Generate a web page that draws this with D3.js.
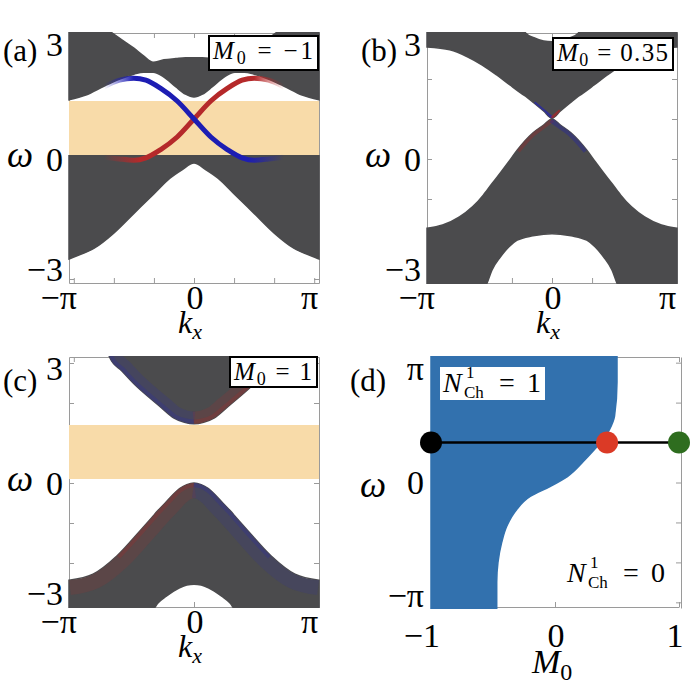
<!DOCTYPE html>
<meta charset="utf-8">
<style>
body { margin: 0; background: #fff; }
text { font-family: "Liberation Serif", "Times New Roman", "DejaVu Serif", serif; fill: #000; }
.it { font-style: italic; }
.axis .domain, .axis .tick line { stroke: #9a9a9a; stroke-width: 1px; }
.band { fill: #4b4b4d; stroke: #4b4b4d; stroke-width: 1.5px; }
.gap { fill: #f8dba9; }
</style>
<svg width="700" height="700"></svg>
<script src="https://d3js.org/d3.v7.min.js"></script>
<script>

var PI = Math.PI;

// ticks (k in units of pi)
var kTicks = [-1, -2/3, -1/3, 0, 1/3, 2/3, 1];
var kLabelVals = [-1, 0, 1];
var kLabelText = ["−π", "0", "π"];
var wTicks = [-3, -2, -1, 0, 1, 2, 3];
var wLabelVals = [-3, 0, 3];
var wLabelText = ["−3", "0", "3"];
var mTicks = [-1, 0, 1];
var mLabelText = ["−1", "0", "1"];
var dLabelVals = [-PI, 0, PI];
var dLabelText = ["−π", "0", "π"];

// gap band (orange) in omega
var gapLo = 0.1, gapHi = 1.45;

// (a) M0 = -1
var aUpK  = [-1.04, -0.9, -0.75, -0.68, -0.6, -0.5, -0.42, -0.34, -0.25, -0.15, -0.07, 0, 0.07, 0.15, 0.25, 0.34, 0.42, 0.5, 0.6, 0.68, 0.75, 0.9, 1.04];
var aUpLo = [1.48, 1.6, 1.82, 1.92, 2.02, 2.12, 2.17, 2.17, 2.05, 1.8, 1.62, 1.55, 1.62, 1.8, 2.05, 2.17, 2.17, 2.12, 2.02, 1.92, 1.82, 1.6, 1.48];
var aUpHi = [3.3, 3.3, 3.3, 3.15, 2.98, 2.77, 2.58, 2.42, 2.48, 2.51, 2.53, 2.53, 2.53, 2.51, 2.48, 2.42, 2.58, 2.77, 2.98, 3.15, 3.3, 3.3, 3.3];
var aLoK  = [-1.04, -1, -0.83, -0.67, -0.5, -0.33, -0.2, -0.1, 0, 0.1, 0.2, 0.33, 0.5, 0.67, 0.83, 1, 1.04];
var aLoLo = [-2.5, -2.45, -2.23, -1.86, -1.36, -0.86, -0.48, -0.27, -0.1, -0.27, -0.48, -0.86, -1.36, -1.86, -2.23, -2.45, -2.5];
var aLoHi = [0.08, 0.08, 0.08, 0.08, 0.08, 0.08, 0.08, 0.08, 0.08, 0.08, 0.08, 0.08, 0.08, 0.08, 0.08, 0.08, 0.08];
var aBlueK = [-0.75, -0.62, -0.5, -0.4, -0.28, -0.14, 0, 0.14, 0.28, 0.4, 0.5, 0.62, 0.75];
var aBlueW = [1.8, 1.97, 2.02, 1.97, 1.77, 1.45, 1.0, 0.55, 0.23, 0.03, -0.03, 0.0, 0.05];
var aRedK  = [-0.75, -0.62, -0.5, -0.4, -0.28, -0.14, 0, 0.14, 0.28, 0.4, 0.5, 0.62, 0.75];
var aRedW  = [0.05, 0.0, -0.03, 0.03, 0.23, 0.55, 1.0, 1.45, 1.77, 1.97, 2.02, 1.97, 1.8];

// (b) M0 = 0.35
var bUpK  = [-1.04, -0.85, -0.7, -0.58, -0.46, -0.35, -0.25, -0.22, -0.15, -0.07, 0, 0.07, 0.15, 0.22, 0.25, 0.35, 0.46, 0.58, 0.7, 0.85, 1.04];
var bUpLo = [2.8, 2.73, 2.55, 2.35, 2.1, 1.85, 1.63, 1.57, 1.4, 1.2, 1.02, 1.2, 1.4, 1.57, 1.63, 1.85, 2.1, 2.35, 2.55, 2.73, 2.8];
var bUpHi = [3.3, 3.3, 3.3, 3.3, 3.3, 3.3, 3.3, 3.15, 3.03, 2.95, 2.93, 2.95, 3.03, 3.15, 3.3, 3.3, 3.3, 3.3, 3.3, 3.3, 3.3];
var bLoK  = [-1.04, -0.91, -0.77, -0.57, -0.54, -0.5, -0.43, -0.36, -0.29, -0.16, -0.07, 0, 0.07, 0.16, 0.29, 0.36, 0.43, 0.5, 0.54, 0.57, 0.77, 0.91, 1.04];
var bLoHi = [-1.73, -1.65, -1.45, -0.9, -0.78, -0.62, -0.35, -0.07, 0.22, 0.65, 0.85, 1.0, 0.85, 0.65, 0.22, -0.07, -0.35, -0.62, -0.78, -0.9, -1.45, -1.65, -1.73];
var bLoLo = [-3.3, -3.3, -3.3, -3.3, -3.1, -2.78, -2.45, -2.2, -2.03, -1.92, -1.88, -1.87, -1.88, -1.92, -2.03, -2.2, -2.45, -2.78, -3.1, -3.3, -3.3, -3.3, -3.3];

// (c) M0 = 1
var cUpK  = [-0.72, -0.7, -0.6, -0.5, -0.37, -0.27, -0.17, -0.08, 0, 0.08, 0.17, 0.27, 0.37, 0.5, 0.6, 0.7, 0.72];
var cUpLo = [3.3, 3.13, 2.8, 2.48, 2.13, 1.88, 1.63, 1.52, 1.48, 1.52, 1.63, 1.88, 2.13, 2.48, 2.8, 3.13, 3.3];
var cUpHi = [3.3, 3.3, 3.3, 3.3, 3.3, 3.3, 3.3, 3.3, 3.3, 3.3, 3.3, 3.3, 3.3, 3.3, 3.3, 3.3, 3.3];
var cLoK  = [-1.04, -0.84, -0.64, -0.45, -0.35, -0.3, -0.23, -0.12, -0.06, 0, 0.06, 0.12, 0.23, 0.3, 0.35, 0.45, 0.64, 0.84, 1.04];
var cLoHi = [-2.43, -2.28, -1.82, -1.2, -0.86, -0.69, -0.47, -0.14, -0.04, 0.0, -0.04, -0.14, -0.47, -0.69, -0.86, -1.2, -1.82, -2.28, -2.43];
var cLoLo = [-3.3, -3.3, -3.3, -3.3, -3.2, -3.0, -2.83, -2.62, -2.55, -2.53, -2.55, -2.62, -2.83, -3.0, -3.2, -3.3, -3.3, -3.3, -3.3];

// (d) phase diagram: boundary M0 of the N=1 region versus omega
var dBoundW = [-3.15, -2.5, -2.0, -1.5, -1.1, -0.68, -0.35, -0.1, 0.15, 0.53, 0.83, 1.08, 1.33, 1.66, 2.51, 3.15];
var dBoundM = [-0.47, -0.47, -0.46, -0.43, -0.39, -0.31, -0.2, -0.04, 0.1, 0.23, 0.32, 0.39, 0.44, 0.48, 0.5, 0.5];
var dLineW = 1;
var dDotM = [-1, 0.42, 1];
var dDotColor = ["#000000", "#db3a26", "#2e6d1f"];

var svg = d3.select("svg");
var defs = svg.append("defs");

function zip3(k, lo, hi) { return k.map(function(v, i) { return [v, lo[i], hi[i]]; }); }
function zip2(k, w) { return k.map(function(v, i) { return [v, w[i]]; }); }

function addAxes(g, x, y, left, top, xt, yt) {
  var w = 250, h = 250;
  g.append("g").attr("class", "axis").attr("transform", "translate(0," + (top + h) + ")")
    .call(d3.axisBottom(x).tickValues(xt).tickSize(-5).tickSizeOuter(0).tickFormat(""));
  g.append("g").attr("class", "axis").attr("transform", "translate(0," + top + ")")
    .call(d3.axisTop(x).tickValues(xt).tickSize(-5).tickSizeOuter(0).tickFormat(""));
  g.append("g").attr("class", "axis").attr("transform", "translate(" + left + ",0)")
    .call(d3.axisLeft(y).tickValues(yt).tickSize(-5).tickSizeOuter(0).tickFormat(""));
  g.append("g").attr("class", "axis").attr("transform", "translate(" + (left + w) + ",0)")
    .call(d3.axisRight(y).tickValues(yt).tickSize(-5).tickSizeOuter(0).tickFormat(""));
}

function makePanel(id, left, top, label) {
  var x = d3.scaleLinear().domain([-1.04, 1.04]).range([left, left + 250]);
  var y = d3.scaleLinear().domain([-3.1, 3.15]).range([top + 250, top]);
  defs.append("clipPath").attr("id", "clip-" + id)
    .append("rect").attr("x", left - 1).attr("y", top - 1).attr("width", 252).attr("height", 252);
  var g = svg.append("g");
  addAxes(g, x, y, left, top, kTicks, wTicks);
  var plot = g.append("g").attr("clip-path", "url(#clip-" + id + ")");

  // tick labels
  g.selectAll(".wl").data(wLabelVals).enter().append("text")
    .attr("x", left - 6)
    .attr("y", function(d) { return Math.max(top + 11, Math.min(top + 236, y(d))) + 11.5; })
    .attr("text-anchor", "end").style("font-size", "34px")
    .text(function(d, i) { return wLabelText[i]; });
  g.selectAll(".kl").data(kLabelVals).enter().append("text")
    .attr("x", function(d) { return d === 0 ? x(d) + 1 : x(d) + (d < 0 ? 3 : 4); })
    .attr("y", top + 250 + 26)
    .attr("text-anchor", function(d) { return d === 0 ? "middle" : "end"; })
    .style("font-size", "34px")
    .text(function(d, i) { return kLabelText[i]; });

  // axis titles
  var kt = g.append("text").attr("x", x(0) - 16).attr("y", top + 300).style("font-size", "32px");
  kt.append("tspan").attr("class", "it").text("k");
  kt.append("tspan").attr("class", "it").attr("dy", 6).style("font-size", "22px").text("x");
  g.append("text").attr("class", "it").attr("x", left - 49).attr("y", y(0) + 8)
    .attr("text-anchor", "middle").style("font-size", "37px").text("ω");
  g.append("text").attr("x", left - 66).attr("y", top + (top > 100 ? 34 : 28))
    .style("font-size", "31px").text(label);

  return { x: x, y: y, g: g, plot: plot, left: left, top: top };
}

function bandArea(P) {
  return d3.area().curve(d3.curveMonotoneX)
    .x(function(d) { return P.x(d[0]); })
    .y0(function(d) { return P.y(d[1]); })
    .y1(function(d) { return P.y(d[2]); });
}

function drawBand(P, id, data) {
  var area = bandArea(P);
  defs.append("clipPath").attr("id", id).append("path").attr("d", area(data));
  P.plot.append("path").attr("class", "band").attr("d", area(data));
}

function tint(P, clipId, pts, color, width, opacity) {
  var line = d3.line().curve(d3.curveMonotoneX)
    .x(function(d) { return P.x(d[0]); })
    .y(function(d) { return P.y(d[1]); });
  P.plot.append("g").attr("clip-path", "url(#" + clipId + ")")
    .append("path").attr("d", line(pts))
    .attr("fill", "none").attr("stroke", color)
    .attr("stroke-width", width).attr("stroke-opacity", opacity);
}

function gap(P) {
  P.plot.append("rect").attr("class", "gap")
    .attr("x", P.left).attr("width", 250)
    .attr("y", P.y(gapHi)).attr("height", P.y(gapLo) - P.y(gapHi));
}

function mBox(P, x0, y0, x1, y1, val) {
  P.g.append("rect").attr("x", x0).attr("y", y0).attr("width", x1 - x0).attr("height", y1 - y0)
    .attr("fill", "#fff").attr("stroke", "#000").attr("stroke-width", 2);
  var t = P.g.append("text").attr("x", x0 + 4).attr("y", y0 + 23).style("font-size", "25px")
    .attr("textLength", x1 - x0 - 9).attr("lengthAdjust", "spacing");
  t.append("tspan").attr("class", "it").text("M");
  t.append("tspan").attr("dy", 5).style("font-size", "18px").text("0");
  t.append("tspan").attr("dy", -5).text(" = " + val);
}

function sub(list, lo, hi) {
  return list.filter(function(d) { return d[0] >= lo && d[0] <= hi; });
}

// ---- panel (a)
var A = makePanel("a", 69, 33, "(a)");
gap(A);
drawBand(A, "aup", zip3(aUpK, aUpLo, aUpHi));
drawBand(A, "alo", zip3(aLoK, aLoLo, aLoHi));

function edgeGrad(id, P, color, k0, k1, fadeIn, fadeOut) {
  var gr = defs.append("linearGradient").attr("id", id).attr("gradientUnits", "userSpaceOnUse")
    .attr("x1", P.x(k0)).attr("x2", P.x(k1)).attr("y1", 0).attr("y2", 0);
  var span = k1 - k0;
  gr.append("stop").attr("offset", 0).attr("stop-color", color).attr("stop-opacity", 0);
  gr.append("stop").attr("offset", (fadeIn - k0) / span).attr("stop-color", color).attr("stop-opacity", 1);
  gr.append("stop").attr("offset", (fadeOut - k0) / span).attr("stop-color", color).attr("stop-opacity", 1);
  gr.append("stop").attr("offset", 1).attr("stop-color", color).attr("stop-opacity", 0);
}
edgeGrad("gBlue", A, "#1d1db3", -0.75, 0.75, -0.5, 0.45);
edgeGrad("gRed", A, "#b5292a", -0.75, 0.75, -0.45, 0.5);
var edgeLine = d3.line().curve(d3.curveMonotoneX)
  .x(function(d) { return A.x(d[0]); })
  .y(function(d) { return A.y(d[1]); });
A.plot.append("path").attr("d", edgeLine(zip2(aRedK, aRedW)))
  .attr("fill", "none").attr("stroke", "url(#gRed)").attr("stroke-width", 5);
A.plot.append("path").attr("d", edgeLine(zip2(aBlueK, aBlueW)))
  .attr("fill", "none").attr("stroke", "url(#gBlue)").attr("stroke-width", 5);
mBox(A, 209, 36, 318, 70, "−1");

// ---- panel (b)
var B = makePanel("b", 427, 33, "(b)");
drawBand(B, "bup", zip3(bUpK, bUpLo, bUpHi));
drawBand(B, "blo", zip3(bLoK, bLoLo, bLoHi));
var bUpEdge = zip2(bUpK, bUpLo), bLoEdge = zip2(bLoK, bLoHi);
tint(B, "bup", sub(bUpEdge, -0.16, 0), "#2020c0", 4, 0.6);
tint(B, "bup", sub(bUpEdge, 0, 0.08), "#c02020", 4, 0.6);
tint(B, "blo", sub(bLoEdge, -0.3, 0), "#b02020", 7, 0.3);
tint(B, "blo", sub(bLoEdge, 0, 0.3), "#2020b0", 8, 0.35);
mBox(B, 553, 38, 673, 70, "0.35");

// ---- panel (c)
var C = makePanel("c", 69, 357, "(c)");
gap(C);
drawBand(C, "cup", zip3(cUpK, cUpLo, cUpHi));
drawBand(C, "clo", zip3(cLoK, cLoLo, cLoHi));
var cUpEdge = zip2(cUpK, cUpLo), cLoEdge = zip2(cLoK, cLoHi);
tint(C, "cup", sub(cUpEdge, -1, 0.02), "#30309a", 24, 0.22);
tint(C, "cup", sub(cUpEdge, -1, 0.02), "#30309a", 8, 0.3);
tint(C, "cup", sub(cUpEdge, -0.02, 1), "#9a3030", 24, 0.22);
tint(C, "cup", sub(cUpEdge, -0.02, 1), "#9a3030", 8, 0.3);
tint(C, "clo", sub(cLoEdge, -1.1, 0.02), "#9a3030", 30, 0.2);
tint(C, "clo", sub(cLoEdge, -0.7, 0.02), "#9a3030", 8, 0.3);
tint(C, "clo", sub(cLoEdge, -0.02, 1.1), "#30309a", 30, 0.2);
tint(C, "clo", sub(cLoEdge, -0.02, 0.7), "#30309a", 8, 0.3);
mBox(C, 230, 357, 317, 387, "1");

// ---- panel (d)
var xm = d3.scaleLinear().domain([-1, 1]).range([431, 679]);
var yd = d3.scaleLinear().domain([-PI, PI]).range([608, 357]);
var D = svg.append("g");
addAxes(D, xm, yd, 431, 357, mTicks, wTicks);
defs.append("clipPath").attr("id", "clip-d")
  .append("rect").attr("x", 430).attr("y", 356).attr("width", 250).attr("height", 253);

var dArea = d3.area().curve(d3.curveMonotoneY)
  .y(function(d) { return yd(d[0]); })
  .x0(xm(-1))
  .x1(function(d) { return xm(d[1]); });
D.append("g").attr("clip-path", "url(#clip-d)")
  .append("path").attr("d", dArea(zip2(dBoundW, dBoundM)))
  .attr("fill", "#3271ae").attr("stroke", "#3271ae").attr("stroke-width", 1.5);

D.append("line").attr("x1", xm(-1)).attr("x2", xm(1))
  .attr("y1", yd(dLineW)).attr("y2", yd(dLineW))
  .attr("stroke", "#000").attr("stroke-width", 2.6);
D.selectAll(".dot").data(dDotM).enter().append("circle")
  .attr("cx", function(d) { return xm(d); })
  .attr("cy", yd(dLineW)).attr("r", 11)
  .attr("fill", function(d, i) { return dDotColor[i]; });

D.selectAll(".dl").data(dLabelVals).enter().append("text")
  .attr("x", 424)
  .attr("y", function(d) { return Math.max(368, Math.min(595, yd(d))) + 11.5; })
  .attr("text-anchor", "end").style("font-size", "34px")
  .text(function(d, i) { return dLabelText[i]; });
D.selectAll(".ml").data(mTicks).enter().append("text")
  .attr("x", function(d) { return d < 0 ? xm(d) + 9 : (d > 0 ? xm(d) - 4 : xm(d) + 1); })
  .attr("y", 647)
  .attr("text-anchor", function(d) { return d < 0 ? "end" : "middle"; })
  .style("font-size", "34px")
  .text(function(d, i) { return mLabelText[i]; });
var mt = D.append("text").attr("x", 532).attr("y", 673).style("font-size", "34px");
mt.append("tspan").attr("class", "it").text("M");
mt.append("tspan").attr("dy", 7).style("font-size", "24px").text("0");
D.append("text").attr("class", "it").attr("x", 373).attr("y", 497)
  .attr("text-anchor", "middle").style("font-size", "37px").text("ω");
D.append("text").attr("x", 350).attr("y", 391).style("font-size", "31px").text("(d)");

function nLabel(x0, base, val, box) {
  if (box) {
    D.append("rect").attr("x", x0 - 3).attr("y", base - 25).attr("width", 105).attr("height", 33)
      .attr("fill", "#fff");
  }
  D.append("text").attr("class", "it").attr("x", x0).attr("y", base).style("font-size", "28px").text("N");
  D.append("text").attr("x", x0 + 23).attr("y", base - 14).style("font-size", "17px").text("1");
  D.append("text").attr("x", x0 + 21).attr("y", base + 6).style("font-size", "17px").text("Ch");
  D.append("text").attr("x", x0 + 56).attr("y", base).style("font-size", "28px").text("=");
  D.append("text").attr("x", x0 + 84).attr("y", base).style("font-size", "28px").text(val);
}
nLabel(443, 392, "1", true);
nLabel(567, 582, "0", false);

</script>
